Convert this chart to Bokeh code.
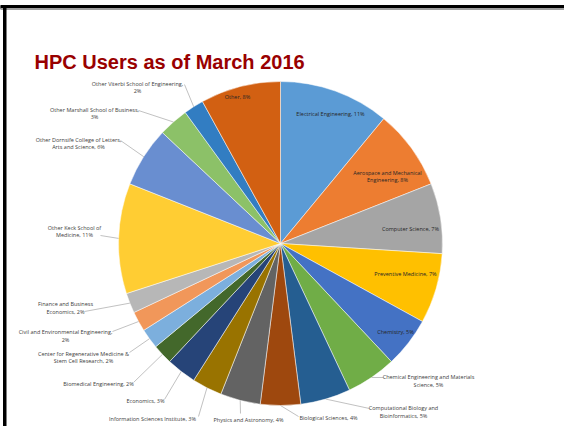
import math
from bokeh.plotting import figure
from bokeh.models import ColumnDataSource, Range1d
from bokeh.core.properties import value
from bokeh.embed import file_html
from bokeh.resources import INLINE

# ---------------- data ----------------
departments = [
    "Electrical Engineering",
    "Aerospace and Mechanical Engineering",
    "Computer Science",
    "Preventive Medicine",
    "Chemistry",
    "Chemical Engineering and Materials Science",
    "Computational Biology and Bioinformatics",
    "Biological Sciences",
    "Physics and Astronomy",
    "Information Sciences Institute",
    "Economics",
    "Biomedical Engineering",
    "Center for Regenerative Medicine & Stem Cell Research",
    "Civil and Environmental Engineering",
    "Finance and Business Economics",
    "Other Keck School of Medicine",
    "Other Dornsife College of Letters, Arts and Science",
    "Other Marshall School of Business",
    "Other Viterbi School of Engineering",
    "Other",
]
percents = [11, 8, 7, 7, 5, 5, 5, 4, 4, 3, 3, 2, 2, 2, 2, 11, 6, 3, 2, 8]
colors = [
    "#5B9BD5", "#ED7D31", "#A5A5A5", "#FFC000", "#4472C4", "#70AD47",
    "#255E91", "#9E480E", "#636363", "#997300", "#264478", "#43682B",
    "#7CAFDD", "#F1975A", "#B7B7B7", "#FFCD33", "#698ED0", "#8CC168",
    "#327DC2", "#D26012",
]
title_text = "HPC Users as of March 2016"

# ---------------- layout (pixel coordinates, top-left origin) ----------------
W, H = 564, 426
CX, CY, R = 280, 243, 162
# words on first label line (0 = single line)
break_after = [0, 3, 0, 0, 0, 4, 3, 0, 0, 0, 0, 0, 5, 4, 3, 4, 5, 5, 5, 0]
inside = [True, True, True, True, True] + [False] * 14 + [True]
label_x = [330, 387, 410, 405, 395, 428, 403, 328, 248, 152, 145, 98, 83, 65, 65, 74, 78, 94, 137, 237]
label_y = [113, 176, 228, 273, 331, 380.5, 411.5, 417, 419, 418, 400, 383, 357, 335.5, 307.5, 231, 143, 113, 87, 96]
leader_start = [None, None, None, None, None,
                (383, 377), (369, 408), (298, 416), (240, 413), (198, 416),
                (164, 399), (133, 382), (129, 352), (112, 331), (84, 311),
                (100, 235), (120, 140), (138, 110), (184, 84), None]
LINE_GAP = 7.5
FONT = "Open Sans"
FS = "5.5px"


def Y(y):
    return H - y


p = figure(width=W, height=H, output_backend="svg", toolbar_location=None,
           x_range=Range1d(0, W), y_range=Range1d(0, H), min_border=0,
           background_fill_color="white", border_fill_color="white")
p.axis.visible = False
p.grid.visible = False
p.outline_line_color = None

# slide frame
p.quad(left=[0], right=[W], top=[Y(5)], bottom=[Y(8)], color="black")
p.quad(left=[0], right=[W], top=[Y(8)], bottom=[Y(9)], color="#A0A0A0")
p.quad(left=[3], right=[5.5], top=[Y(5)], bottom=[Y(H)], color="black")

# title
p.text(x=[34], y=[Y(61)], text=[title_text], text_font=value("Liberation Sans"),
       text_font_style="bold", text_font_size="20px", text_color="#990000",
       text_baseline="middle", text_align="left")

# pie
total = sum(percents)
starts, ends = [], []
cum = 0.0
for v in percents:
    starts.append(math.pi / 2 - 2 * math.pi * cum / total)
    cum += v
    ends.append(math.pi / 2 - 2 * math.pi * cum / total)
src = ColumnDataSource(dict(start=starts, end=ends, color=colors))
p.wedge(x=CX, y=Y(CY), radius=R, start_angle="start", end_angle="end",
        direction="clock", fill_color="color", line_color="white",
        line_width=0.5, source=src)

# leader lines
xs, ys = [], []
for i, st in enumerate(leader_start):
    if st is None:
        continue
    mid = (starts[i] + ends[i]) / 2
    ex = CX + R * math.cos(mid)
    ey = Y(CY) + R * math.sin(mid)
    xs.append([st[0], ex])
    ys.append([Y(st[1]), ey])
p.multi_line(xs=xs, ys=ys, line_color="#A6A6A6", line_width=0.7)

# labels
tx, ty, tt, tc = [], [], [], []
for i, name in enumerate(departments):
    words = f"{name}, {percents[i]}%".split(" ")
    k = break_after[i]
    lines = [" ".join(words)] if k == 0 else [" ".join(words[:k]), " ".join(words[k:])]
    n = len(lines)
    for j, ln in enumerate(lines):
        tx.append(label_x[i])
        ty.append(Y(label_y[i] + (j - (n - 1) / 2) * LINE_GAP))
        tt.append(ln)
        tc.append("#262626" if inside[i] else "#404040")
lsrc = ColumnDataSource(dict(x=tx, y=ty, text=tt, color=tc))
p.text(x="x", y="y", text="text", text_color="color", source=lsrc,
       text_font=value(FONT), text_font_size=FS, text_align="center",
       text_baseline="middle")

open("out.html", "w").write(file_html(p, INLINE))
